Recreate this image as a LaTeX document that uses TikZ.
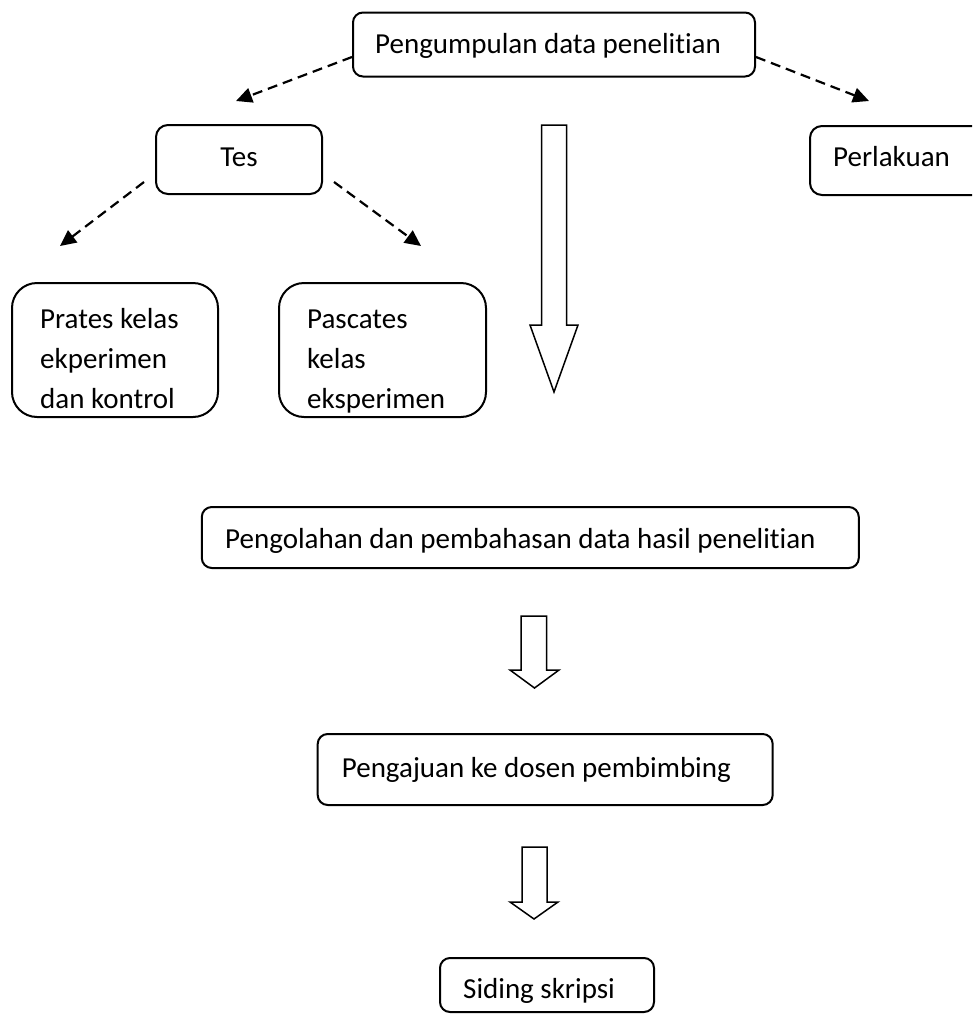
\documentclass[tikz,border=0pt]{standalone}
\usepackage{fontspec}
\setmainfont{Carlito}[Ligatures={NoCommon}]
\usetikzlibrary{arrows.meta}
\tikzset{
  box/.style={draw, line width=2pt, rounded corners=#1, inner sep=0pt, anchor=center},
  box/.default=10pt,
  txt/.style={inner sep=0pt, font=\fontsize{29}{40}\selectfont},
  dashline/.style={line width=2.2pt, dash pattern=on 10pt off 6pt, -{Triangle[length=16pt,width=15pt]}},
  hollow/.style={draw, line width=1.5pt, line join=miter, fill=white}
}
\begin{document}
\begin{tikzpicture}[x=1pt,y=-1pt]
\useasboundingbox (0,0) rectangle (972,1017);
\clip (0,0) rectangle (972,1017);
\fill[white] (0,0) rectangle (972,1017);
% boxes
\node[box, minimum width=402pt, minimum height=64pt] (top) at (554,44.5) {};
\node[box=12pt, minimum width=166pt, minimum height=69pt] (tes) at (239,159.5) {};
\node[box=12pt, minimum width=190pt, minimum height=69pt] (perl) at (905,160.5) {};
\node[box=25pt, minimum width=206pt, minimum height=134pt] (prates) at (115,350) {};
\node[box=25pt, minimum width=207pt, minimum height=134pt] (pasc) at (382.5,350) {};
\node[box, minimum width=657pt, minimum height=61pt] (olah) at (530.3,537.5) {};
\node[box, minimum width=455pt, minimum height=71pt] (aju) at (545.2,769.5) {};
\node[box, minimum width=214pt, minimum height=54pt] (sid) at (547,985) {};
% texts
\node[txt, anchor=base west] (topT) at (375,53) {Pengumpulan data penelitian};
\node[txt, anchor=base] (tesT) at (239,166.7) {Tes};
\node[txt, anchor=base west] (perlT) at (833,166.7) {Perlakuan};
\node[txt, anchor=base west] (pratesT) at (40,328) {\begin{tabular}[t]{@{}l@{}}Prates kelas\\ekperimen\\dan kontrol\end{tabular}};
\begin{scope}
\clip (pasc.south west) rectangle (pasc.north east);
\node[txt, anchor=base west] (pascT) at (307,328) {\begin{tabular}[t]{@{}l@{}}Pascates\\kelas\\eksperimen\end{tabular}};
\end{scope}
\node[txt, anchor=base west] (olahT) at (225,548) {Pengolahan dan pembahasan data hasil penelitian};
\node[txt, anchor=base west] (ajuT) at (341.7,777) {Pengajuan ke dosen pembimbing};
\node[txt, anchor=base west] (sidT) at (463,998) {Siding skripsi};
% dashed arrow ends
\coordinate (e1) at (236,101);
\coordinate (e2) at (869,101);
\coordinate (e3) at (60,246);
\coordinate (e4) at (421,246);
\draw[dashline] ([yshift=-12.5pt]top.west) -- (e1);
\draw[dashline] ([yshift=-12.5pt]top.east) -- (e2);
\draw[dashline] ([xshift=-11pt,yshift=-22.5pt]tes.west) -- (e3);
\draw[dashline] ([xshift=11pt,yshift=-22.5pt]tes.east) -- (e4);
% hollow block arrows
\draw[hollow] (541.7,125) -- (566.7,125) -- (566.7,325) -- (578,325) -- (554,392) -- (530,325) -- (541.7,325) -- cycle;
\draw[hollow] (521,616) -- (546.7,616) -- (546.7,670) -- (559,670) -- (534.5,688) -- (510,670) -- (521,670) -- cycle;
\draw[hollow] (522,847) -- (547,847) -- (547,902) -- (558,902) -- (534,919) -- (510,902) -- (522,902) -- cycle;
\end{tikzpicture}
\end{document}
